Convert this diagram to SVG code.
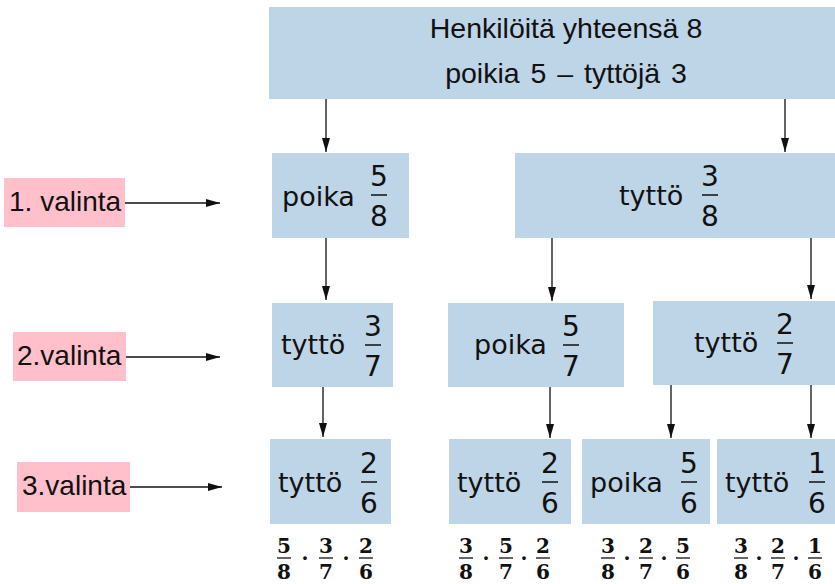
<svg xmlns="http://www.w3.org/2000/svg" width="835" height="584" viewBox="0 0 835 584">
<style>
.box{fill:#bed4e7}
.pink{fill:#ffc0cb}
.lbl{font-family:"Liberation Sans",Arial,sans-serif;font-size:28px;fill:#111}
.top{font-family:"Liberation Sans",Arial,sans-serif;font-size:28.5px;fill:#111;text-anchor:middle}
.w{font-family:"DejaVu Sans",sans-serif;font-size:27px;fill:#111}
.d{font-family:"DejaVu Sans",sans-serif;font-size:28px;fill:#111;text-anchor:middle}
.fl{stroke:#111;stroke-width:1.5}
.p{font-family:"DejaVu Serif",serif;font-weight:bold;font-size:20px;fill:#111;text-anchor:middle}
.pl{stroke:#111;stroke-width:1.3}
.c{stroke:#111;stroke-width:1.3;fill:none;marker-end:url(#ah)}
</style>
<defs>
<marker id="ah" markerUnits="userSpaceOnUse" markerWidth="15" markerHeight="9" refX="14" refY="4.5" orient="auto">
<path d="M0,0.5 L14,4.5 L0,8.5 Z" fill="#111"/>
</marker>
</defs>
<g id="connectors">
<line class="c" x1="326" y1="99" x2="326" y2="152"/>
<line class="c" x1="785" y1="99" x2="785" y2="152"/>
<line class="c" x1="326" y1="238" x2="326" y2="300"/>
<line class="c" x1="552" y1="238" x2="552" y2="301"/>
<line class="c" x1="811" y1="238" x2="811" y2="299"/>
<line class="c" x1="323" y1="387" x2="323" y2="437"/>
<line class="c" x1="550" y1="387" x2="550" y2="438"/>
<line class="c" x1="671" y1="385" x2="671" y2="438"/>
<line class="c" x1="811" y1="385" x2="811" y2="438"/>
<line class="c" x1="125" y1="203" x2="220" y2="203"/>
<line class="c" x1="126" y1="357" x2="220" y2="357"/>
<line class="c" x1="130" y1="487" x2="222" y2="487"/>
</g>
<g id="root">
<rect class="box" x="269" y="7" width="566" height="92"/>
<text class="top" x="566" y="38">Henkilöitä yhteensä 8</text>
<text class="top" x="566" y="83" word-spacing="3">poikia 5 – tyttöjä 3</text>
</g>
<g id="label1">
<rect class="pink" x="4" y="178" width="121" height="49"/>
<text class="lbl" x="9" y="211">1. valinta</text>
</g>
<g id="label2">
<rect class="pink" x="13" y="332" width="113" height="49"/>
<text class="lbl" x="17" y="365">2.valinta</text>
</g>
<g id="label3">
<rect class="pink" x="17" y="462" width="113" height="50"/>
<text class="lbl" x="22" y="495">3.valinta</text>
</g>
<g id="n1-poika">
<rect class="box" x="272" y="153" width="137" height="85"/>
<text class="w" x="282" y="206">poika</text>
<text class="d" x="379" y="186">5</text>
<line class="fl" x1="371" y1="195" x2="387" y2="195"/>
<text class="d" x="379" y="226">8</text>
</g>
<g id="n1-tytto">
<rect class="box" x="515" y="153" width="320" height="85"/>
<text class="w" x="619" y="205">tyttö</text>
<text class="d" x="710" y="186">3</text>
<line class="fl" x1="702" y1="195" x2="718" y2="195"/>
<text class="d" x="710" y="226">8</text>
</g>
<g id="n2-tytto-a">
<rect class="box" x="272" y="303" width="121" height="84"/>
<text class="w" x="281" y="354">tyttö</text>
<text class="d" x="373" y="336">3</text>
<line class="fl" x1="365" y1="345" x2="381" y2="345"/>
<text class="d" x="373" y="376">7</text>
</g>
<g id="n2-poika">
<rect class="box" x="448" y="303" width="176" height="84"/>
<text class="w" x="474" y="354">poika</text>
<text class="d" x="571" y="336">5</text>
<line class="fl" x1="563" y1="345" x2="579" y2="345"/>
<text class="d" x="571" y="376">7</text>
</g>
<g id="n2-tytto-b">
<rect class="box" x="653" y="301" width="182" height="84"/>
<text class="w" x="694" y="352">tyttö</text>
<text class="d" x="785" y="334">2</text>
<line class="fl" x1="777" y1="343" x2="793" y2="343"/>
<text class="d" x="785" y="374">7</text>
</g>
<g id="n3-a">
<rect class="box" x="270" y="439" width="121" height="85"/>
<text class="w" x="278" y="492">tyttö</text>
<text class="d" x="369" y="473">2</text>
<line class="fl" x1="361" y1="482" x2="377" y2="482"/>
<text class="d" x="369" y="513">6</text>
</g>
<g id="n3-b">
<rect class="box" x="449" y="439" width="122" height="85"/>
<text class="w" x="457" y="492">tyttö</text>
<text class="d" x="550" y="473">2</text>
<line class="fl" x1="542" y1="482" x2="558" y2="482"/>
<text class="d" x="550" y="513">6</text>
</g>
<g id="n3-c">
<rect class="box" x="582" y="439" width="128" height="85"/>
<text class="w" x="590" y="492">poika</text>
<text class="d" x="689" y="473">5</text>
<line class="fl" x1="681" y1="482" x2="697" y2="482"/>
<text class="d" x="689" y="513">6</text>
</g>
<g id="n3-d">
<rect class="box" x="717" y="439" width="118" height="85"/>
<text class="w" x="725" y="492">tyttö</text>
<text class="d" x="817" y="473">1</text>
<line class="fl" x1="809" y1="482" x2="825" y2="482"/>
<text class="d" x="817" y="513">6</text>
</g>
<g id="product-a">
<text class="p" x="284" y="553">5</text><line class="pl" x1="277" y1="558" x2="291" y2="558"/><text class="p" x="284" y="579">8</text>
<text class="p" x="305" y="565">·</text>
<text class="p" x="326" y="553">3</text><line class="pl" x1="319" y1="558" x2="333" y2="558"/><text class="p" x="326" y="579">7</text>
<text class="p" x="346" y="565">·</text>
<text class="p" x="366" y="553">2</text><line class="pl" x1="359" y1="558" x2="373" y2="558"/><text class="p" x="366" y="579">6</text>
</g>
<g id="product-b">
<text class="p" x="466" y="553">3</text><line class="pl" x1="459" y1="558" x2="473" y2="558"/><text class="p" x="466" y="579">8</text>
<text class="p" x="486" y="565">·</text>
<text class="p" x="506" y="553">5</text><line class="pl" x1="499" y1="558" x2="513" y2="558"/><text class="p" x="506" y="579">7</text>
<text class="p" x="524" y="565">·</text>
<text class="p" x="543" y="553">2</text><line class="pl" x1="536" y1="558" x2="550" y2="558"/><text class="p" x="543" y="579">6</text>
</g>
<g id="product-c">
<text class="p" x="608" y="553">3</text><line class="pl" x1="601" y1="558" x2="615" y2="558"/><text class="p" x="608" y="579">8</text>
<text class="p" x="627" y="565">·</text>
<text class="p" x="646" y="553">2</text><line class="pl" x1="639" y1="558" x2="653" y2="558"/><text class="p" x="646" y="579">7</text>
<text class="p" x="664" y="565">·</text>
<text class="p" x="683" y="553">5</text><line class="pl" x1="676" y1="558" x2="690" y2="558"/><text class="p" x="683" y="579">6</text>
</g>
<g id="product-d">
<text class="p" x="741" y="553">3</text><line class="pl" x1="734" y1="558" x2="748" y2="558"/><text class="p" x="741" y="579">8</text>
<text class="p" x="759" y="565">·</text>
<text class="p" x="778" y="553">2</text><line class="pl" x1="771" y1="558" x2="785" y2="558"/><text class="p" x="778" y="579">7</text>
<text class="p" x="796" y="565">·</text>
<text class="p" x="815" y="553">1</text><line class="pl" x1="808" y1="558" x2="822" y2="558"/><text class="p" x="815" y="579">6</text>
</g>
</svg>
